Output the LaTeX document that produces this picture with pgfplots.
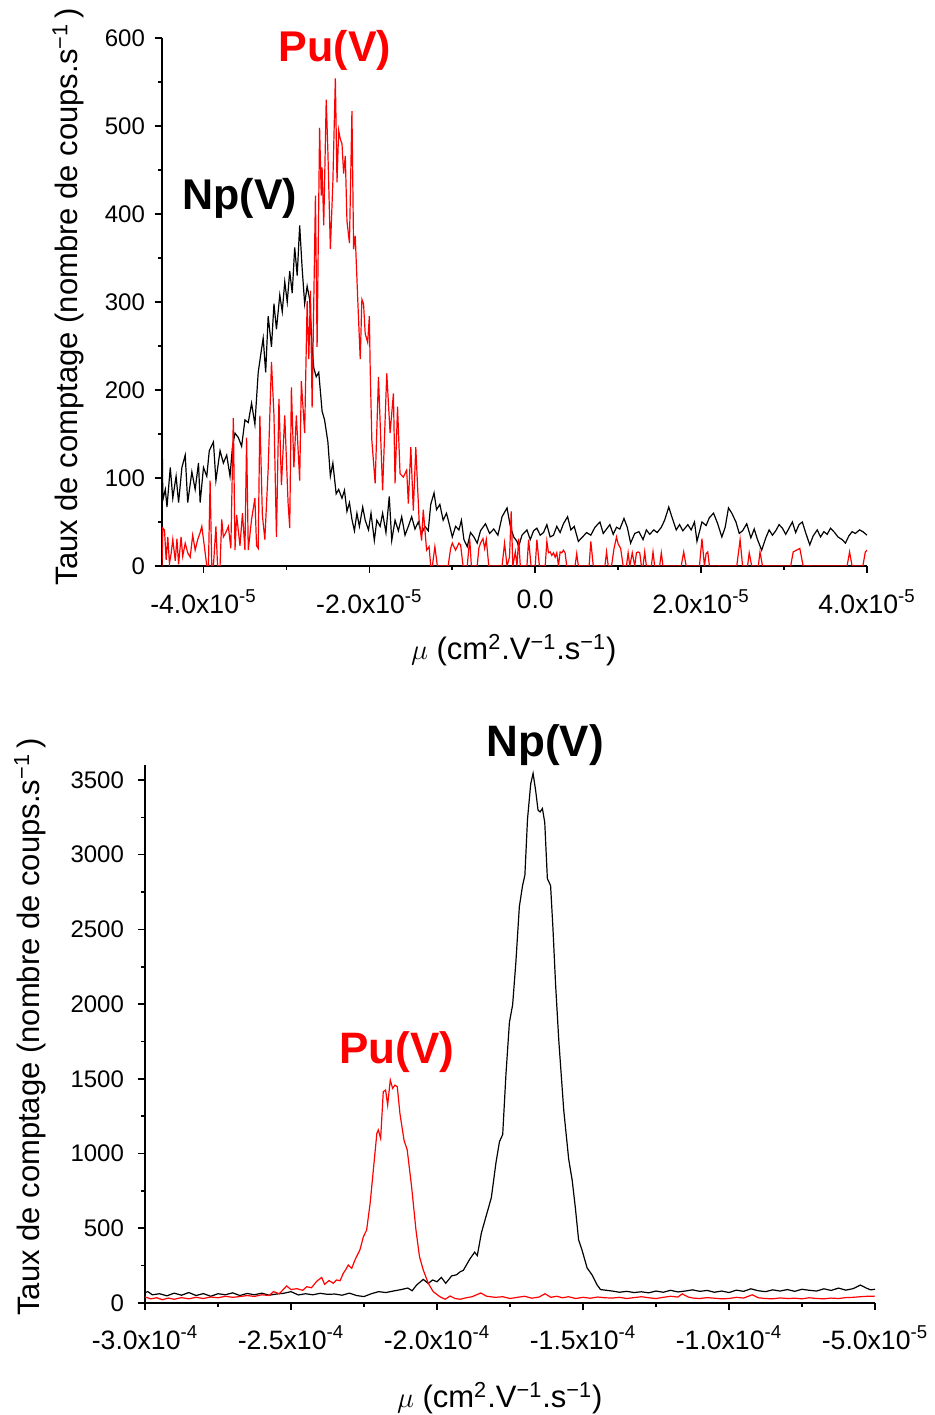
\documentclass[border=0pt]{standalone}
\usepackage{fontspec}
\setmainfont{Liberation Sans}
\usepackage{pgfplots}
\pgfplotsset{compat=1.18}

\pgfplotsset{mystyle/.style={
  scale only axis,
  axis lines=left,
  axis line style={-, line width=1pt},
  tick align=outside,
  major tick length=3.5pt,
  minor tick length=2pt,
  every tick/.style={black, line width=0.8pt},
  xtick pos=left, ytick pos=left,
  yticklabel style={font=\fontsize{12}{14}\selectfont},
  xticklabel style={font=\fontsize{13.3}{15}\selectfont},
  /pgf/number format/assume math mode=true,
  /pgf/number format/1000 sep={},
  clip mode=individual,
  every axis plot/.append style={line width=0.6pt},
}}

\begin{document}
\begin{tikzpicture}
\path[use as bounding box] (0,0) rectangle (467pt,707.5pt);

% ---------------- top panel ----------------
\begin{axis}[mystyle,
  at={(81pt,424.5pt)}, anchor=south west,
  width=352.5pt, height=264pt,
  xmin=-4.5, xmax=4, ymin=0, ymax=600,
  xtick={-4,-2,0,2,4},
  xticklabels={-4.0x10\textsuperscript{-5},-2.0x10\textsuperscript{-5},0.0,2.0x10\textsuperscript{-5},4.0x10\textsuperscript{-5}},
  xticklabel style={yshift=-5pt},
  yticklabel style={xshift=-1.5pt},
  minor x tick num=1,
  ytick={0,100,...,600},
  minor y tick num=1,
  xlabel={$\mu$ (cm\textsuperscript{2}.V\textsuperscript{−1}.s\textsuperscript{−1})},
  ylabel={Taux de comptage (nombre de coups.s\textsuperscript{−1}\,)},
  every axis x label/.style={at={(axis description cs:0.499,-0.159)}, anchor=center, font=\fontsize{15.5}{18}\selectfont},
  every axis y label/.style={at={(axis description cs:-0.133,0.51)}, anchor=center, rotate=90, font=\fontsize{15.5}{18}\selectfont},
]
\addplot[black] coordinates {
(-4.50,165) (-4.49,75) (-4.46,87) (-4.44,67) (-4.40,112) (-4.37,77) (-4.33,102) (-4.30,72)
(-4.26,112) (-4.22,126) (-4.19,72) (-4.14,107) (-4.10,87) (-4.06,117) (-4.04,72) (-4.00,112)
(-3.96,102) (-3.93,131) (-3.88,141) (-3.85,97) (-3.80,131) (-3.76,117) (-3.72,126) (-3.68,102)
(-3.65,136) (-3.62,151) (-3.58,146) (-3.54,136) (-3.50,166) (-3.46,163) (-3.42,185) (-3.38,161)
(-3.34,220) (-3.31,240) (-3.28,259) (-3.25,220) (-3.22,284) (-3.18,249) (-3.15,298) (-3.12,269)
(-3.08,308) (-3.05,289) (-3.02,323) (-2.99,300) (-2.96,335) (-2.93,310) (-2.90,362) (-2.87,330)
(-2.84,387) (-2.81,338) (-2.78,298) (-2.75,318) (-2.72,303) (-2.69,249) (-2.67,225) (-2.64,215)
(-2.61,220) (-2.57,176) (-2.54,166) (-2.50,141) (-2.47,102) (-2.44,117) (-2.40,82) (-2.37,87)
(-2.33,77) (-2.30,86) (-2.27,62) (-2.24,72) (-2.21,53) (-2.18,40) (-2.15,60) (-2.12,45)
(-2.08,67) (-2.05,52) (-2.01,41) (-1.98,60) (-1.94,29) (-1.91,52) (-1.87,45) (-1.84,60)
(-1.80,38) (-1.76,79) (-1.73,29) (-1.69,52) (-1.65,40) (-1.61,56) (-1.57,35) (-1.53,45)
(-1.49,56) (-1.45,42) (-1.41,50) (-1.37,37) (-1.33,45) (-1.29,40) (-1.26,70) (-1.22,83)
(-1.19,64) (-1.15,70) (-1.11,52) (-1.07,60) (-1.03,45) (-1.00,33) (-0.96,45) (-0.92,41)
(-0.89,52) (-0.86,30) (-0.82,22) (-0.78,38) (-0.74,33) (-0.70,26) (-0.66,40) (-0.60,48)
(-0.55,37) (-0.50,42) (-0.45,35) (-0.40,56) (-0.34,66) (-0.30,45) (-0.26,33) (-0.22,28)
(-0.20,22) (-0.16,35) (-0.10,41) (-0.06,30) (-0.02,40) (0.02,43) (0.06,35) (0.10,38)
(0.14,47) (0.18,33) (0.22,35) (0.26,45) (0.30,38) (0.34,48) (0.39,56) (0.43,41)
(0.47,45) (0.52,28) (0.57,33) (0.62,38) (0.67,35) (0.72,44) (0.78,50) (0.82,37)
(0.86,42) (0.90,47) (0.94,36) (0.98,44) (1.02,42) (1.07,54) (1.11,44) (1.15,26)
(1.20,37) (1.25,39) (1.30,30) (1.34,41) (1.38,36) (1.43,41) (1.47,38) (1.52,44)
(1.56,52) (1.61,67) (1.65,55) (1.70,41) (1.74,47) (1.78,40) (1.84,47) (1.88,41)
(1.92,50) (1.95,28) (2.01,50) (2.06,46) (2.10,55) (2.15,60) (2.20,48) (2.25,33)
(2.29,44) (2.33,66) (2.37,60) (2.42,50) (2.46,37) (2.50,40) (2.55,48) (2.60,32)
(2.64,42) (2.68,30) (2.73,18) (2.78,32) (2.82,41) (2.86,35) (2.90,40) (2.94,47)
(2.98,43) (3.02,36) (3.06,43) (3.10,50) (3.14,38) (3.18,47) (3.22,50) (3.26,38)
(3.31,24) (3.35,34) (3.40,41) (3.44,33) (3.48,39) (3.52,36) (3.56,43) (3.61,38)
(3.65,33) (3.70,30) (3.74,26) (3.78,34) (3.82,39) (3.86,37) (3.91,41) (3.95,39)
(4.00,35)
};
\addplot[red] coordinates {
(-4.50,0) (-4.49,43) (-4.47,41) (-4.45,7) (-4.43,33) (-4.41,3) (-4.39,14) (-4.37,30)
(-4.34,6) (-4.32,31) (-4.30,2) (-4.27,33) (-4.25,11) (-4.22,26) (-4.19,15) (-4.16,10)
(-4.13,35) (-4.10,18) (-4.07,30) (-4.04,38) (-4.02,45) (-3.99,23) (-3.96,0) (-3.94,0)
(-3.92,97) (-3.90,0) (-3.88,0) (-3.85,45) (-3.83,0) (-3.80,0) (-3.78,53) (-3.76,33)
(-3.73,38) (-3.70,45) (-3.67,20) (-3.64,168) (-3.62,18) (-3.60,58) (-3.56,23) (-3.53,60)
(-3.50,18) (-3.48,146) (-3.46,18) (-3.42,53) (-3.38,77) (-3.36,23) (-3.34,20) (-3.32,171)
(-3.29,58) (-3.26,30) (-3.22,110) (-3.18,232) (-3.15,171) (-3.12,33) (-3.09,190) (-3.06,92)
(-3.02,171) (-2.98,72) (-2.96,43) (-2.94,203) (-2.91,112) (-2.88,171) (-2.84,97) (-2.82,210)
(-2.78,151) (-2.75,301) (-2.73,235) (-2.71,313) (-2.69,180) (-2.65,421) (-2.63,249) (-2.60,498)
(-2.58,421) (-2.57,453) (-2.55,387) (-2.52,530) (-2.50,471) (-2.47,360) (-2.44,436) (-2.41,554)
(-2.39,436) (-2.37,495) (-2.35,485) (-2.33,480) (-2.31,446) (-2.29,466) (-2.27,392) (-2.24,367)
(-2.21,517) (-2.19,360) (-2.17,375) (-2.14,303) (-2.11,235) (-2.09,303) (-2.07,298) (-2.05,264)
(-2.02,254) (-2.00,284) (-1.99,225) (-1.97,143) (-1.93,94) (-1.89,215) (-1.84,86) (-1.79,219)
(-1.75,151) (-1.71,196) (-1.69,94) (-1.66,181) (-1.63,105) (-1.59,101) (-1.55,109) (-1.53,71)
(-1.50,135) (-1.47,63) (-1.44,135) (-1.40,52) (-1.37,29) (-1.35,64) (-1.31,18) (-1.28,22)
(-1.26,0) (-1.24,0) (-1.21,22) (-1.18,0) (-1.05,0) (-1.02,20) (-1.00,26) (-0.96,18)
(-0.92,26) (-0.90,24) (-0.87,0) (-0.82,0) (-0.79,31) (-0.77,0) (-0.70,0) (-0.68,20)
(-0.66,26) (-0.63,31) (-0.61,20) (-0.59,30) (-0.56,0) (-0.40,0) (-0.37,26) (-0.34,0)
(-0.31,10) (-0.29,62) (-0.27,0) (-0.24,16) (-0.22,0) (-0.20,31) (-0.18,0) (-0.10,0)
(-0.08,30) (-0.05,0) (0.00,0) (0.02,30) (0.05,0) (0.12,0) (0.14,28) (0.16,15)
(0.18,16) (0.20,12) (0.22,15) (0.24,10) (0.26,15) (0.28,0) (0.30,16) (0.32,15)
(0.34,18) (0.36,15) (0.38,0) (0.48,0) (0.50,14) (0.52,0) (0.65,0) (0.67,28)
(0.70,0) (0.84,0) (0.86,16) (0.88,0) (0.92,0) (0.95,20) (0.98,33) (1.00,25)
(1.03,20) (1.06,0) (1.10,0) (1.12,15) (1.14,0) (1.17,15) (1.20,0) (1.22,15)
(1.24,16) (1.26,15) (1.28,0) (1.30,0) (1.32,16) (1.34,0) (1.40,0) (1.42,16)
(1.44,0) (1.50,0) (1.52,15) (1.54,0) (1.76,0) (1.79,16) (1.82,0) (1.98,0)
(2.01,31) (2.04,0) (2.06,14) (2.08,16) (2.10,0) (2.43,0) (2.47,30) (2.50,0)
(2.56,0) (2.58,15) (2.61,0) (2.69,0) (2.71,16) (2.74,0) (3.08,0) (3.11,16)
(3.15,18) (3.19,20) (3.23,0) (3.76,0) (3.79,16) (3.82,0) (3.95,0) (3.98,16)
(4.00,18)
};
\node[font=\fontsize{21.5}{24}\selectfont\bfseries, text=red] at (axis cs:-2.414,586) {Pu(V)};
\node[font=\fontsize{21.5}{24}\selectfont\bfseries, text=black] at (axis cs:-3.56,418) {Np(V)};
\end{axis}

% ---------------- bottom panel ----------------
\begin{axis}[mystyle,
  at={(72.5pt,56pt)}, anchor=south west,
  width=365pt, height=269pt,
  xmin=-30, xmax=-5, ymin=0, ymax=3600,
  xtick={-30,-25,-20,-15,-10,-5},
  xticklabels={-3.0x10\textsuperscript{-4},-2.5x10\textsuperscript{-4},-2.0x10\textsuperscript{-4},-1.5x10\textsuperscript{-4},-1.0x10\textsuperscript{-4},-5.0x10\textsuperscript{-5}},
  xticklabel style={yshift=-4.5pt},
  yticklabel style={xshift=-3.5pt},
  minor x tick num=1,
  ytick={0,500,...,3500},
  minor y tick num=1,
  xlabel={$\mu$ (cm\textsuperscript{2}.V\textsuperscript{−1}.s\textsuperscript{−1})},
  ylabel={Taux de comptage (nombre de coups.s\textsuperscript{−1}\,)},
  every axis x label/.style={at={(axis description cs:0.486,-0.1766)}, anchor=center, font=\fontsize{15.5}{18}\selectfont},
  every axis y label/.style={at={(axis description cs:-0.1575,0.513)}, anchor=center, rotate=90, font=\fontsize{15.5}{18}\selectfont},
]
\addplot[black] coordinates {
(-30.0,70) (-29.9,76) (-29.75,55) (-29.5,62) (-29.25,48) (-29.0,66) (-28.75,52) (-28.5,70)
(-28.25,50) (-28.0,63) (-27.75,45) (-27.5,62) (-27.25,55) (-27.0,68) (-26.75,50) (-26.5,64)
(-26.25,55) (-26.0,66) (-25.75,52) (-25.5,60) (-25.25,65) (-25.0,76) (-24.75,54) (-24.5,62)
(-24.25,55) (-24.0,65) (-23.75,58) (-23.5,60) (-23.25,52) (-23.0,66) (-22.75,50) (-22.5,43)
(-22.25,62) (-22.0,76) (-21.75,70) (-21.5,80) (-21.25,89) (-21.0,100) (-20.85,82) (-20.7,120)
(-20.47,158) (-20.3,131) (-20.15,154) (-20.0,142) (-19.85,171) (-19.7,132) (-19.5,181) (-19.33,189)
(-19.2,210) (-19.1,218) (-19.05,235) (-18.88,293) (-18.71,340) (-18.62,317) (-18.48,469) (-18.31,587)
(-18.14,704) (-17.98,939) (-17.86,1080) (-17.75,1127) (-17.64,1526) (-17.52,1878) (-17.41,1995) (-17.3,2277)
(-17.18,2652) (-17.07,2793) (-16.99,2863) (-16.9,3239) (-16.79,3474) (-16.71,3544) (-16.62,3427) (-16.54,3298)
(-16.47,3286) (-16.39,3309) (-16.31,3215) (-16.22,2840) (-16.11,2793) (-16.03,2511) (-15.94,2136) (-15.83,1760)
(-15.66,1291) (-15.49,962) (-15.37,821) (-15.26,634) (-15.15,422) (-15.03,352) (-14.86,235) (-14.69,188)
(-14.52,122) (-14.4,90) (-14.2,85) (-14.0,80) (-13.75,72) (-13.5,78) (-13.25,70) (-13.0,75)
(-12.75,68) (-12.5,80) (-12.25,72) (-12.0,85) (-11.75,74) (-11.5,80) (-11.25,88) (-11.0,78)
(-10.75,84) (-10.5,72) (-10.25,80) (-10.0,70) (-9.75,86) (-9.5,78) (-9.25,95) (-9.0,82)
(-8.75,76) (-8.5,88) (-8.25,80) (-8.0,90) (-7.75,78) (-7.5,92) (-7.25,85) (-7.0,80)
(-6.75,95) (-6.5,84) (-6.25,100) (-6.0,86) (-5.75,96) (-5.5,120) (-5.3,100) (-5.15,88)
(-5.0,92)
};
\addplot[red] coordinates {
(-30.0,40) (-29.8,28) (-29.6,35) (-29.4,22) (-29.2,33) (-29.0,25) (-28.75,36) (-28.5,28)
(-28.25,38) (-28.0,30) (-27.75,40) (-27.5,35) (-27.25,45) (-27.0,38) (-26.75,43) (-26.5,50)
(-26.25,44) (-26.0,55) (-25.75,50) (-25.6,76) (-25.4,62) (-25.15,114) (-25.0,90) (-24.8,96)
(-24.6,85) (-24.46,109) (-24.3,102) (-24.12,145) (-23.95,171) (-23.85,125) (-23.7,150) (-23.55,132)
(-23.44,154) (-23.32,149) (-23.21,198) (-23.12,225) (-23.04,254) (-22.92,232) (-22.81,288) (-22.64,355)
(-22.52,444) (-22.41,488) (-22.29,667) (-22.18,890) (-22.06,1135) (-22.01,1158) (-21.93,1101) (-21.84,1414)
(-21.76,1425) (-21.69,1325) (-21.6,1492) (-21.52,1436) (-21.44,1458) (-21.36,1447) (-21.27,1269) (-21.13,1090)
(-21.02,1024) (-20.87,779) (-20.72,488) (-20.6,310) (-20.47,221) (-20.3,132) (-20.13,76) (-19.9,42)
(-19.72,25) (-19.55,47) (-19.38,30) (-19.21,25) (-19.0,35) (-18.8,42) (-18.5,67) (-18.3,45)
(-18.0,38) (-17.75,42) (-17.5,30) (-17.25,38) (-17.0,45) (-16.75,32) (-16.5,40) (-16.3,62)
(-16.1,38) (-15.9,45) (-15.7,35) (-15.5,42) (-15.25,30) (-15.0,38) (-14.75,32) (-14.5,40)
(-14.25,35) (-14.0,33) (-13.75,38) (-13.5,30) (-13.25,36) (-13.0,42) (-12.75,35) (-12.5,30)
(-12.25,38) (-12.0,45) (-11.75,40) (-11.6,61) (-11.4,40) (-11.2,32) (-11.0,30) (-10.75,36)
(-10.5,32) (-10.25,28) (-10.0,30) (-9.75,38) (-9.5,33) (-9.2,55) (-9.0,35) (-8.75,30)
(-8.5,28) (-8.25,34) (-8.0,30) (-7.75,32) (-7.5,28) (-7.25,35) (-7.0,30) (-6.75,28)
(-6.5,33) (-6.25,30) (-6.0,36) (-5.75,38) (-5.5,42) (-5.25,45) (-5.0,46)
};
\node[font=\fontsize{22}{24}\selectfont\bfseries, text=black] at (axis cs:-16.3,3733) {Np(V)};
\node[font=\fontsize{22}{24}\selectfont\bfseries, text=red] at (axis cs:-21.37,1679) {Pu(V)};
\end{axis}
\end{tikzpicture}
\end{document}
